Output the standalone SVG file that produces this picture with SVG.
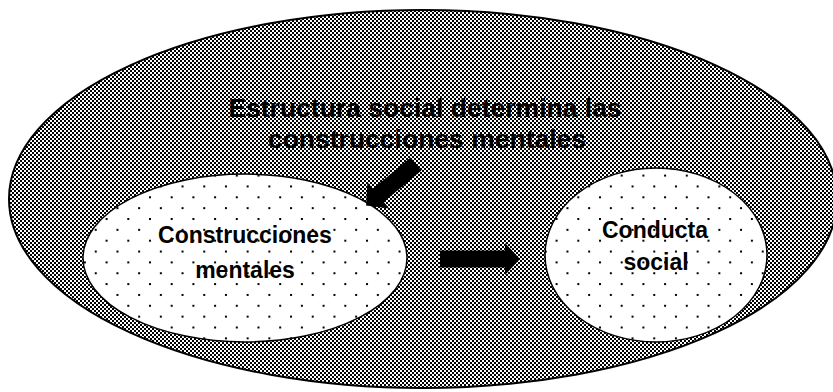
<svg xmlns="http://www.w3.org/2000/svg" width="833" height="392" viewBox="0 0 833 392">
<defs>
<pattern id="chk" width="4" height="4" patternUnits="userSpaceOnUse">
<rect width="4" height="4" fill="#fff"/>
<rect width="2" height="2" fill="#000"/>
<rect x="2" y="2" width="2" height="2" fill="#000"/>
</pattern>
<pattern id="dotsL" x="149" y="218" width="21.7" height="21.7" patternUnits="userSpaceOnUse">
<rect width="21.7" height="21.7" fill="#fff"/>
<rect width="2" height="2" fill="#000"/>
<rect x="10.85" y="10.85" width="2" height="2" fill="#000"/>
</pattern>
<pattern id="dotsR" x="599" y="218" width="21.7" height="21.7" patternUnits="userSpaceOnUse">
<rect width="21.7" height="21.7" fill="#fff"/>
<rect width="2" height="2" fill="#000"/>
<rect x="10.85" y="10.85" width="2" height="2" fill="#000"/>
</pattern>
</defs>
<style>
.t{font-family:"Liberation Sans",Arial,sans-serif;font-weight:bold;fill:#000;text-anchor:middle}
.title{font-size:26.5px}
.lbl{font-size:23px}
.arrow{fill:#000;stroke:none}
</style>
<rect width="833" height="392" fill="#fff"/>
<g id="estructura-social">
<ellipse cx="423" cy="199" rx="414" ry="189" fill="url(#chk)" stroke="#000" stroke-width="2"/>
<text class="t title" x="425" y="117">Estructura social determina las</text>
<text class="t title" x="427" y="148">construcciones mentales</text>
</g>
<g id="construcciones-mentales">
<ellipse cx="245" cy="258" rx="162" ry="84" fill="url(#dotsL)" stroke="#000" stroke-width="1.5"/>
<text class="t lbl" x="245" y="243">Construcciones</text>
<text class="t lbl" x="245" y="278">mentales</text>
</g>
<g id="conducta-social">
<ellipse cx="656" cy="255" rx="111" ry="87" fill="url(#dotsR)" stroke="#000" stroke-width="1.5"/>
<text class="t lbl" x="655" y="238">Conducta</text>
<text class="t lbl" x="656" y="270">social</text>
</g>
<g id="connectors">
<polygon class="arrow" transform="translate(416,164) rotate(140.2)" points="0,-8.5 49,-8.5 49,-17 65,0 49,17 49,8.5 0,8.5"/>
<polygon class="arrow" transform="translate(440,259)" points="0,-8.5 65,-8.5 65,-16 80,0 65,16 65,8.5 0,8.5"/>
</g>
</svg>
